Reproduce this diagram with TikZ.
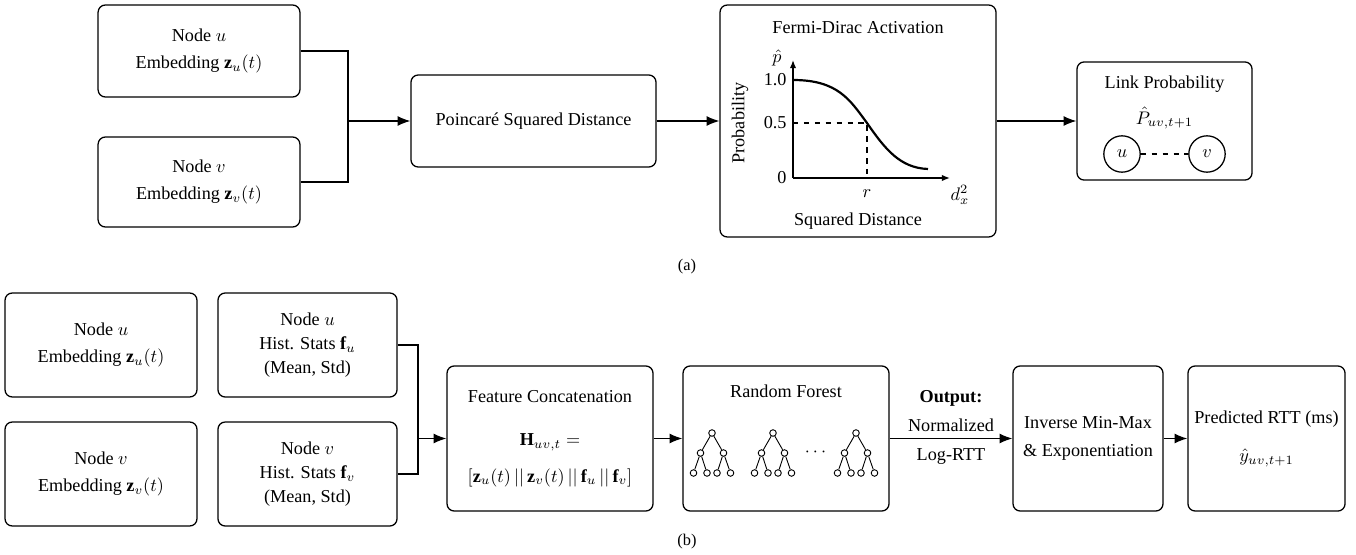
\documentclass[tikz,border=0pt]{standalone}
\usepackage{fontspec}
\setmainfont{Liberation Serif}
\usepackage{amsmath}
\usetikzlibrary{arrows.meta,positioning,shapes}

\tikzset{
  blk/.style={draw,rounded corners=4pt,line width=0.7pt,align=center},
  arr/.style={-{Latex[length=7pt,width=5.5pt]},line width=0.7pt},
  axarr/.style={-{Latex[length=4.5pt,width=3.5pt]},line width=0.7pt},
  tnode/.style={draw,circle,fill=white,inner sep=0pt,minimum size=3.6pt,line width=0.5pt},
}

\begin{document}
\begin{tikzpicture}[x=0.55pt,y=-0.55pt]
\useasboundingbox (0,0) rectangle (1356,555);

% (a) link prediction
\node[blk,minimum width=111pt,minimum height=50.6pt] (nua) at (199,51) {Node $u$\\[3pt] Embedding $\mathbf{z}_u(t)$};
\node[blk,minimum width=111pt,minimum height=49.5pt] (nva) at (199,182) {Node $v$\\[3pt] Embedding $\mathbf{z}_v(t)$};
\node[blk,minimum width=134.8pt,minimum height=50.6pt] (poin) at (533.5,121) {Poincar\'e Squared Distance};
\node[blk,minimum width=151.8pt,minimum height=127.6pt] (fermi) at (858,121) {};
\node[blk,minimum width=96.3pt,minimum height=65pt] (link) at (1164.5,121) {};
\coordinate (ma) at (348,121);
\draw[line width=0.7pt] (nua.east) -| (ma) |- (nva.east);
\draw[arr] (ma) -- (poin.west);
\draw[arr] (poin.east) -- (fermi.west);
\draw[arr] (fermi.east) -- (link.west);

% Fermi-Dirac plot
\node (fdtitle) at (858,28) {Fermi-Dirac Activation};
\coordinate (org) at (793,178);
\draw[axarr] (org) -- (793,60);
\draw[axarr] (org) -- (950,178);
\draw[line width=1.2pt] (793,80) .. controls (838,80) and (850,100) .. (867,123)
  .. controls (885,149) and (900,168) .. (928,169);
\draw[dashed,line width=0.6pt] (793,123) -- (867,123) -- (867,178);
\node[left] (p10) at (793,80) {1.0};
\node[left] (p05) at (793,123) {0.5};
\node[left] (p00) at (793,178) {0};
\node (phat) at (777,58) {$\hat{p}$};
\node[rotate=90] (ylab) at (740,123) {Probability};
\node (rlab) at (867,194) {$r$};
\node[inner sep=1pt] (dlab) at (960,195) {$d_x^2$};
\node (xlab) at (858,221) {Squared Distance};

% link probability
\node[inner sep=1pt] (lktitle) at (1164.5,84) {Link Probability};
\node[inner sep=1pt] (Phat) at (1164.5,118) {$\hat{P}_{uv,t+1}$};
\node[draw,circle,line width=0.7pt,minimum size=20pt,inner sep=0pt] (cu) at (1122,154) {$u$};
\node[draw,circle,line width=0.7pt,minimum size=20pt,inner sep=0pt] (cv) at (1207,154) {$v$};
\draw[dashed,line width=0.7pt] (cu) -- (cv);

\node[font=\small] (lbla) at (687,267) {(a)};

% (b) RTT regression
\node[blk,minimum width=105.6pt,minimum height=57.2pt] (nub) at (101,345) {Node $u$\\[3pt] Embedding $\mathbf{z}_u(t)$};
\node[blk,minimum width=105.6pt,minimum height=57.2pt] (nvb) at (101,474) {Node $v$\\[3pt] Embedding $\mathbf{z}_v(t)$};
\node[blk,minimum width=98.5pt,minimum height=57.2pt] (hu) at (307.5,345) {Node $u$\\[1pt] Hist. Stats $\mathbf{f}_u$\\[1pt] (Mean, Std)};
\node[blk,minimum width=98.5pt,minimum height=57.2pt] (hv) at (307.5,474) {Node $v$\\[1pt] Hist. Stats $\mathbf{f}_v$\\[1pt] (Mean, Std)};
\node[blk,minimum width=113.3pt,minimum height=79.8pt] (cat) at (550,438.5) {Feature Concatenation\\[12pt] $\mathbf{H}_{uv,t} =$\\[8pt] $[\mathbf{z}_u(t)\,||\,\mathbf{z}_v(t)\,||\,\mathbf{f}_u\,||\,\mathbf{f}_v]$};
\node[blk,minimum width=113.3pt,minimum height=79.8pt] (rf) at (786,438.5) {};
\node[blk,minimum width=82.5pt,minimum height=79.8pt] (inv) at (1088,438.5) {Inverse Min-Max\\[3pt] \& Exponentiation};
\node[blk,minimum width=86.4pt,minimum height=79.8pt] (pred) at (1266.5,438.5) {Predicted RTT (ms)\\[9pt] $\hat{y}_{uv,t+1}$};
\coordinate (mb) at (418,438.5);
\draw[line width=0.7pt] (hu.east) -| (mb) |- (hv.east);
\draw[arr] (mb) -- (cat.west);
\draw[arr] (cat.east) -- (rf.west);
\draw[arr] (rf.east) -- node[above,align=center] (out1) {\textbf{Output:}\\[4pt] Normalized} node[below=2pt] (out2) {Log-RTT} (inv.west);
\draw[arr] (inv.east) -- (pred.west);

% random forest
\node (rftitle) at (786,391) {Random Forest};
\foreach \r in {712,773,856} {
  \node[tnode] (r\r) at (\r,433) {};
  \node[tnode] (a\r) at (\r-11.5,453) {};
  \node[tnode] (b\r) at (\r+11.5,453) {};
  \node[tnode] (l1\r) at (\r-18.5,473) {};
  \node[tnode] (l2\r) at (\r-5,473) {};
  \node[tnode] (l3\r) at (\r+5,473) {};
  \node[tnode] (l4\r) at (\r+18.5,473) {};
  \draw[line width=0.5pt] (r\r) -- (a\r) (r\r) -- (b\r)
    (a\r) -- (l1\r) (a\r) -- (l2\r) (b\r) -- (l3\r) (b\r) -- (l4\r);
}
\node (dots) at (817,452) {$\cdots$};

\node[font=\small] (lblb) at (687,542) {(b)};
\end{tikzpicture}
\end{document}
